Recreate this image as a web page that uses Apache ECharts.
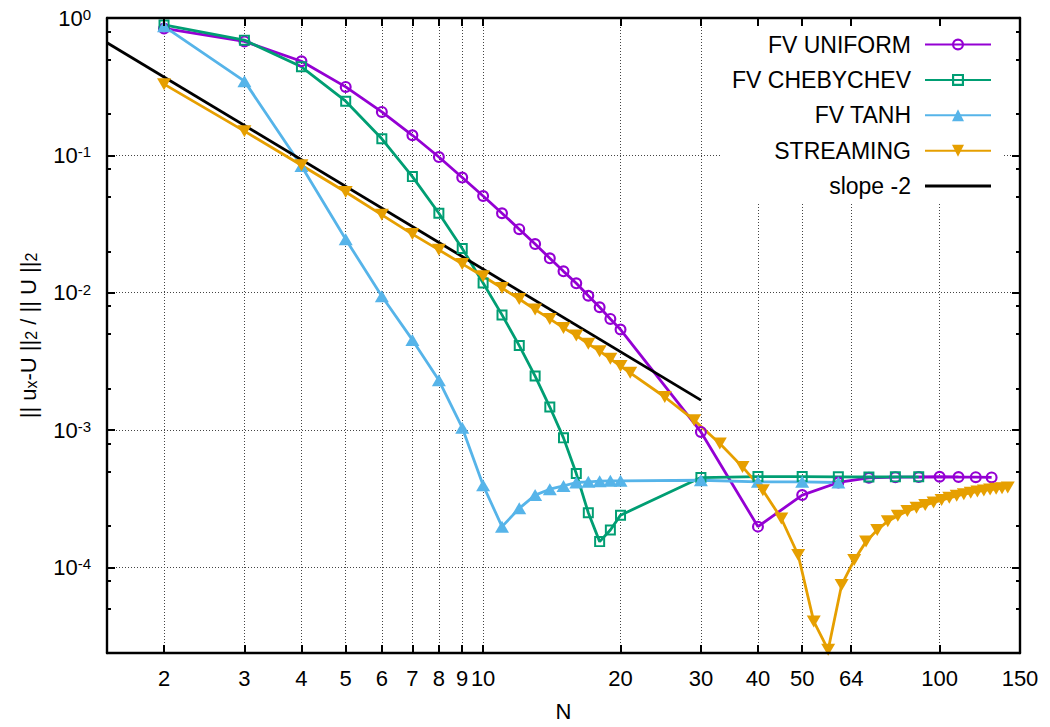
<!DOCTYPE html>
<html>
<head>
<meta charset="utf-8">
<script src="https://cdn.jsdelivr.net/npm/echarts@6/dist/echarts.min.js"></script>
<style>
  html, body { margin: 0; padding: 0; background: #fff; }
  #chart { width: 1050px; height: 727px; }
</style>
</head>
<body>
<div id="chart"></div>
<script>
// Resolution N for each method and the relative error ||u_x - U||_2 / ||U||_2
const N_UNIFORM = [2, 3, 4, 5, 6, 7, 8, 9, 10, 11, 12, 13, 14, 15, 16, 17, 18, 19, 20,
                   30, 40, 50, 60, 70, 80, 90, 100, 110, 120, 130];
const ERR_UNIFORM = [0.84, 0.675, 0.484, 0.315, 0.207, 0.140, 0.0972, 0.0689, 0.0506, 0.0379,
                     0.0290, 0.0226, 0.0178, 0.0143, 0.0117, 0.0095, 0.00783, 0.00644, 0.00539,
                     0.000969, 0.000198, 0.000336, 0.000415, 0.000449, 0.000454, 0.000455,
                     0.000457, 0.000455, 0.000454, 0.000452];

const N_CHEB = [2, 3, 4, 5, 6, 7, 8, 9, 10, 11, 12, 13, 14, 15, 16, 17, 18, 19, 20,
                30, 40, 50, 60, 70, 80, 90];
const ERR_CHEB = [0.89, 0.69, 0.441, 0.248, 0.132, 0.070, 0.0379, 0.0210, 0.01175, 0.00689,
                  0.00412, 0.00247, 0.00147, 0.000877, 0.000482, 0.000250, 0.000154, 0.000187,
                  0.000240, 0.000451, 0.000458, 0.000458, 0.000456, 0.000455, 0.000456, 0.000456];

const N_TANH = [2, 3, 4, 5, 6, 7, 8, 9, 10, 11, 12, 13, 14, 15, 16, 17, 18, 19, 20,
                30, 40, 50, 60];
const ERR_TANH = [0.87, 0.347, 0.0836, 0.0245, 0.00942, 0.00453, 0.00230, 0.00104, 0.000396,
                  0.000198, 0.000269, 0.000336, 0.000371, 0.000392, 0.000415, 0.000420,
                  0.000424, 0.000427, 0.000427, 0.000431, 0.000420, 0.000420, 0.000415];

const N_STREAM = [2, 3, 4, 5, 6, 7, 8, 9, 10, 11, 12, 13, 14, 15, 16, 17, 18, 19, 20, 21,
                  25, 29, 33, 37, 41, 45, 49, 53, 57, 61, 65, 69, 73, 77, 81, 85, 89, 93, 97,
                  101, 105, 109, 113, 117, 121, 125, 129, 133, 137, 141];
const ERR_STREAM = [0.33, 0.150, 0.0846, 0.0541, 0.0369, 0.0267, 0.0205, 0.0162, 0.01316,
                    0.01081, 0.0090, 0.00753, 0.00644, 0.00554, 0.00488, 0.00424, 0.00375,
                    0.00330, 0.00292, 0.00261,
                    0.00174, 0.00118, 0.000797, 0.000539, 0.000365, 0.000227, 0.000123,
                    4.04e-5, 2.51e-5, 7.45e-5, 1.13e-4, 1.54e-4, 1.87e-4, 2.17e-4, 2.38e-4,
                    2.57e-4, 2.72e-4, 2.84e-4, 2.97e-4, 3.09e-4, 3.21e-4, 3.32e-4, 3.41e-4,
                    3.49e-4, 3.57e-4, 3.63e-4, 3.69e-4, 3.73e-4, 3.77e-4, 3.82e-4];

// reference line of slope -2 (end points)
const N_SLOPE = [1.5, 30];
const ERR_SLOPE = [0.66, 0.00165];

const SERIES_NAMES = ['FV UNIFORM', 'FV CHEBYCHEV', 'FV TANH', 'STREAMING', 'slope -2'];

// axis ranges and ticks (in data units)
const X_RANGE = [1.5, 150];
const Y_RANGE = [2.38e-5, 1];
const X_TICKS = [2, 3, 4, 5, 6, 7, 8, 9, 10, 20, 30, 40, 50, 64, 100, 150];
const Y_DECADES = [1e-4, 1e-3, 1e-2, 1e-1, 1];
const Y_MINOR = [5e-5, 8e-5, 2e-4, 5e-4, 8e-4, 2e-3, 5e-3, 8e-3, 2e-2, 5e-2, 8e-2, 0.2, 0.5, 0.8];

const lg = Math.log10;
const FONT = 'Liberation Sans, Arial, Helvetica, sans-serif';

// hollow marker outlines (ring shapes) and filled triangles
const RING_CIRCLE = 'path://M50,0 A50,50 0 1,1 50,100 A50,50 0 1,1 50,0 Z M50,18 A32,32 0 1,0 50,82 A32,32 0 1,0 50,18 Z';
const RING_SQUARE = 'path://M0,0 L100,0 L100,100 L0,100 Z M18,18 L18,82 L82,82 L82,18 Z';
const TRI_UP = 'path://M50,0 L100,86 L0,86 Z';
const TRI_DOWN = 'path://M0,0 L100,0 L50,86 Z';
const LEGEND_BAR = 'path://M0,0 L66,0 L66,3 L0,3 Z';

function toLogPairs(ns, errs) {
  return ns.map((n, i) => [lg(n), lg(errs[i])]);
}

function lineSeries(name, color, ns, errs, symbol, size) {
  return {
    name: name,
    type: 'line',
    data: toLogPairs(ns, errs),
    xAxisIndex: 0,
    yAxisIndex: 0,
    symbol: symbol,
    symbolSize: size,
    showSymbol: symbol !== 'none',
    itemStyle: { color: color, borderWidth: 0 },
    lineStyle: { color: color, width: 2.8 },
    emphasis: { disabled: true },
    animation: false
  };
}

const xMin = lg(X_RANGE[0]), xMax = lg(X_RANGE[1]);
const yMin = lg(Y_RANGE[0]), yMax = lg(Y_RANGE[1]);
const xTickVals = X_TICKS.map(lg);
const yTickVals = Y_DECADES.map(lg);
const yMinorVals = Y_MINOR.map(lg);

// style builders (fresh objects for every axis)
const gridLines = () => ({ show: true, lineStyle: { color: '#444', width: 1, type: [1, 2] } });
const hiddenTick = (vals) => ({ show: false, customValues: vals });

// the plot frame: solid border with inward ticks on all four sides, kept on top
function frameAxis(kind, position, vals, tickLen, withLine) {
  const range = kind === 'x' ? [xMin, xMax] : [yMin, yMax];
  return {
    type: 'value', position: position, min: range[0], max: range[1], z: 10,
    axisLine: { show: withLine, onZero: false, lineStyle: { color: '#000', width: 2.4, type: 'solid' } },
    axisTick: { show: true, inside: true, length: tickLen, customValues: vals, lineStyle: { color: '#000', width: 2, type: 'solid' } },
    axisLabel: { show: false },
    splitLine: { show: false }
  };
}

const chart = echarts.init(document.getElementById('chart'), null, { renderer: 'svg' });

chart.setOption({
  backgroundColor: '#fff',
  animation: false,
  textStyle: { fontFamily: FONT },
  grid: { left: 107, right: 30, top: 18, bottom: 72 },
  xAxis: [
    {
      // labels, grid and title of the N axis
      type: 'value', position: 'bottom', min: xMin, max: xMax,
      axisLine: { show: false, onZero: false },
      axisTick: hiddenTick(xTickVals),
      axisLabel: {
        customValues: xTickVals,
        formatter: v => String(Math.round(Math.pow(10, v))),
        fontSize: 22, color: '#000', fontFamily: FONT, margin: 14
      },
      splitLine: gridLines(),
      name: 'N', nameLocation: 'middle', nameGap: 47,
      nameTextStyle: { fontSize: 22, color: '#000', fontFamily: FONT }
    },
    frameAxis('x', 'bottom', xTickVals, 8, true),
    frameAxis('x', 'top', xTickVals, 8, true)
  ],
  yAxis: [
    {
      // labels, grid and title of the error axis
      type: 'value', position: 'left', min: yMin, max: yMax,
      axisLine: { show: false, onZero: false },
      axisTick: hiddenTick(yTickVals),
      axisLabel: {
        customValues: yTickVals,
        formatter: v => '{b|10}{s|' + Math.round(v) + '}',
        margin: 16,
        rich: {
          b: { fontSize: 22, lineHeight: 22, verticalAlign: 'bottom', color: '#000', fontFamily: FONT },
          s: { fontSize: 15, lineHeight: 15, verticalAlign: 'top', padding: [0, 0, 11, 0], color: '#000', fontFamily: FONT }
        }
      },
      splitLine: gridLines(),
      name: '{m||| u}{s|x}{m|-U ||}{s|2}{m| / || U ||}{s|2}',
      nameLocation: 'middle', nameGap: 68,
      nameTextStyle: {
        rich: {
          m: { fontSize: 22, lineHeight: 22, verticalAlign: 'top', color: '#000', fontFamily: FONT },
          s: { fontSize: 16, lineHeight: 16, verticalAlign: 'bottom', padding: [15, 0, 0, 0], color: '#000', fontFamily: FONT }
        }
      }
    },
    frameAxis('y', 'left', yTickVals, 8, true),
    frameAxis('y', 'left', yMinorVals, 4, false),
    frameAxis('y', 'right', yTickVals, 8, true),
    frameAxis('y', 'right', yMinorVals, 4, false)
  ],
  legend: {
    orient: 'vertical',
    right: 46,
    top: 27,
    align: 'right',
    itemWidth: 66,
    itemHeight: 15,
    itemGap: 12.4,
    padding: [6, 12, 6, 12],
    backgroundColor: '#fff',
    textStyle: { fontSize: 23, lineHeight: 23, color: '#000', fontFamily: FONT, padding: [0, 9, 0, 0] },
    data: [
      { name: SERIES_NAMES[0] },
      { name: SERIES_NAMES[1] },
      { name: SERIES_NAMES[2] },
      { name: SERIES_NAMES[3] },
      { name: SERIES_NAMES[4], icon: LEGEND_BAR }
    ]
  },
  series: [
    lineSeries(SERIES_NAMES[0], '#9400D3', N_UNIFORM, ERR_UNIFORM, RING_CIRCLE, 12),
    lineSeries(SERIES_NAMES[1], '#009E73', N_CHEB, ERR_CHEB, RING_SQUARE, 11),
    lineSeries(SERIES_NAMES[2], '#56B4E9', N_TANH, ERR_TANH, TRI_UP, [14, 12]),
    lineSeries(SERIES_NAMES[3], '#E69F00', N_STREAM, ERR_STREAM, TRI_DOWN, [14, 12]),
    lineSeries(SERIES_NAMES[4], '#000000', N_SLOPE, ERR_SLOPE, 'none', 0)
  ]
});
</script>
</body>
</html>
